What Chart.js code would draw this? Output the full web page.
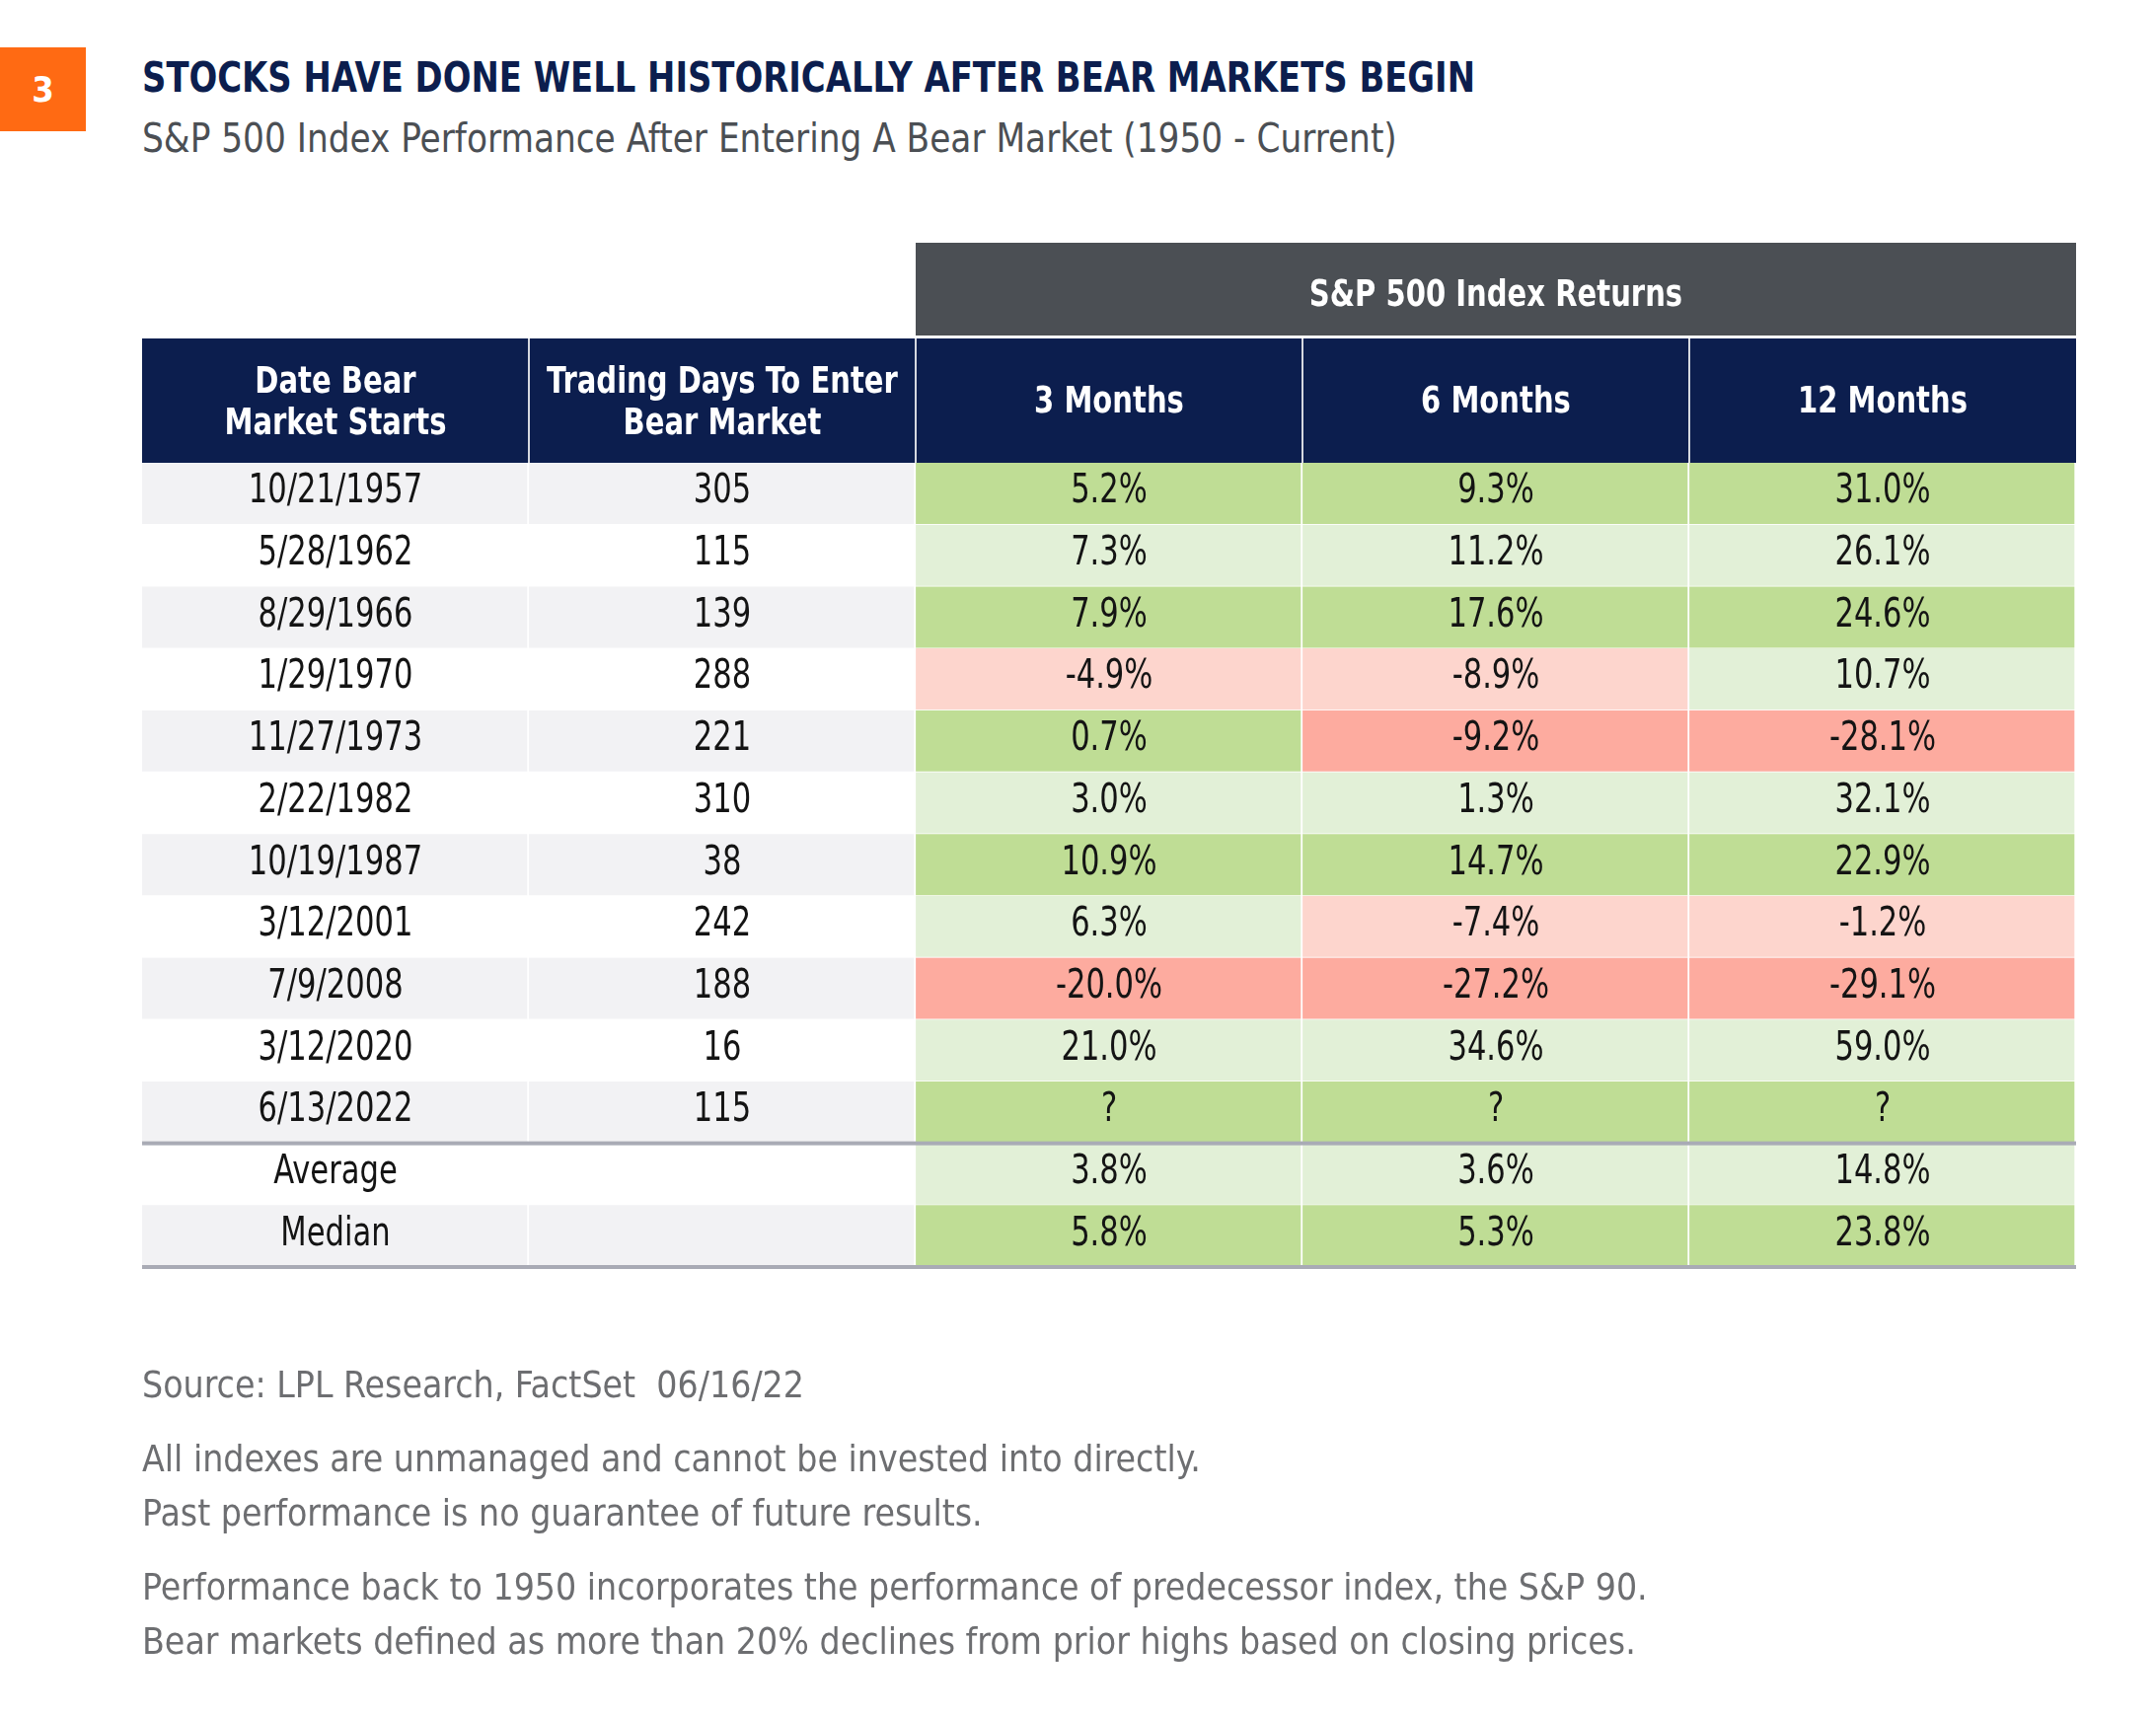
<!DOCTYPE html>
<html>
<head>
<meta charset="utf-8">
<title>Stocks have done well historically after bear markets begin</title>
<script src="https://cdn.jsdelivr.net/npm/chart.js@4.4.0/dist/chart.umd.min.js"></script>
<style>
  html, body { margin: 0; padding: 0; background: #fff; }
  body { width: 2185px; height: 1740px; position: relative; overflow: hidden;
         font-family: "Liberation Sans Narrow", "DejaVu Sans Condensed", Roboto, sans-serif; }
  #table { position: absolute; left: 0; top: 0; }
  .badge { position: absolute; left: 0; top: 48px; width: 87px; height: 85px; background: #ff6a13;
           color: #fff; font-weight: bold; font-size: 36px; line-height: 85px; text-align: center; }
  .title { position: absolute; left: 144px; top: 57px; font-size: 43px; line-height: 43px;
           font-weight: bold; color: #0c1e4e; white-space: nowrap;
           transform: scaleX(0.875); transform-origin: 0 0; }
  .subtitle { position: absolute; left: 144px; top: 120px; font-size: 40px; line-height: 40px;
              color: #4b4f54; white-space: nowrap; transform: scaleX(0.955); transform-origin: 0 0; }
  .note { position: absolute; left: 144px; font-size: 38px; line-height: 55px; color: #6d6e71;
          white-space: nowrap; margin: 0; transform: scaleX(0.975); transform-origin: 0 0; }
</style>
</head>
<body>
<div class="badge">3</div>
<div class="title">STOCKS HAVE DONE WELL HISTORICALLY AFTER BEAR MARKETS BEGIN</div>
<div class="subtitle">S&amp;P 500 Index Performance After Entering A Bear Market (1950 - Current)</div>
<canvas id="table" width="2185" height="1740"></canvas>
<p class="note" style="top:1376px">Source: LPL Research, FactSet&nbsp; 06/16/22</p>
<p class="note" style="top:1451px">All indexes are unmanaged and cannot be invested into directly.<br>Past performance is no guarantee of future results.</p>
<p class="note" style="top:1581px">Performance back to 1950 incorporates the performance of predecessor index, the S&amp;P 90.<br>Bear markets defined as more than 20% declines from prior highs based on closing prices.</p>
<script>
// table data
const startDates = ['10/21/1957', '5/28/1962', '8/29/1966', '1/29/1970', '11/27/1973', '2/22/1982',
                    '10/19/1987', '3/12/2001', '7/9/2008', '3/12/2020', '6/13/2022'];
const tradingDays = [305, 115, 139, 288, 221, 310, 38, 242, 188, 16, 115];
const returns3m  = [5.2, 7.3, 7.9, -4.9, 0.7, 3.0, 10.9, 6.3, -20.0, 21.0, null];
const returns6m  = [9.3, 11.2, 17.6, -8.9, -9.2, 1.3, 14.7, -7.4, -27.2, 34.6, null];
const returns12m = [31.0, 26.1, 24.6, 10.7, -28.1, 32.1, 22.9, -1.2, -29.1, 59.0, null];
const summaryLabels = ['Average', 'Median'];
const summary3m  = [3.8, 5.8];
const summary6m  = [3.6, 5.3];
const summary12m = [14.8, 23.8];
const groupHeader = 'S&P 500 Index Returns';
const columnHeaders = [['Date Bear', 'Market Starts'], ['Trading Days To Enter', 'Bear Market'],
                       ['3 Months'], ['6 Months'], ['12 Months']];

const FONT = '"Liberation Sans Narrow", "DejaVu Sans Condensed", Roboto, sans-serif';
const SQUEEZE = 0.85; // the original face is narrower than anything installed

const rows = startDates.concat(summaryLabels);
const pct = v => v == null ? '?' : v.toFixed(1) + '%';

function plainColor(i) {
  return i % 2 === 0 ? '#f2f2f4' : '#ffffff';
}
function returnColor(v, i) {
  const dark = i % 2 === 0;
  if (v != null && v < 0) return dark ? '#fdab9f' : '#fdd5cd';
  return dark ? '#bfdd95' : '#e2f0d7';
}

const columns = [
  { text: rows, colors: rows.map((r, i) => plainColor(i)) },
  { text: tradingDays.map(String).concat(['', '']), colors: rows.map((r, i) => plainColor(i)) },
];
[returns3m.concat(summary3m), returns6m.concat(summary6m), returns12m.concat(summary12m)].forEach(vals => {
  columns.push({ text: vals.map(pct), colors: vals.map(returnColor) });
});

const datasets = columns.map((col, c) => ({
  label: columnHeaders[c].join(' '),
  data: rows.map(() => [c, c + 1]),
  backgroundColor: col.colors,
  borderColor: '#ffffff',
  borderWidth: { left: 0, right: 2, top: 0, bottom: 1 },
  borderSkipped: false,
  cellText: col.text
}));

function narrowText(ctx, s, x, y) {
  if (!s) return;
  ctx.fillText(s, x, y, ctx.measureText(s).width * SQUEEZE);
}

// header bands above the chart area and text inside the cells
const tableText = {
  id: 'tableText',
  afterDatasetsDraw(chart) {
    const ctx = chart.ctx;
    const x = chart.scales.x, y = chart.scales.y;
    const top = chart.chartArea.top;
    ctx.save();

    ctx.fillStyle = '#4b4f54';
    ctx.fillRect(x.getPixelForValue(2), top - 223, x.getPixelForValue(5) - x.getPixelForValue(2), 94);
    ctx.fillStyle = '#0c1e4e';
    ctx.fillRect(x.getPixelForValue(0), top - 126, x.getPixelForValue(5) - x.getPixelForValue(0), 126);
    ctx.fillStyle = '#d5d8df';
    for (let c = 1; c < 5; c++) ctx.fillRect(x.getPixelForValue(c) - 1, top - 126, 2, 126);

    ctx.fillStyle = '#ffffff';
    ctx.textAlign = 'center';
    ctx.textBaseline = 'alphabetic';
    ctx.font = 'bold 38px ' + FONT;
    narrowText(ctx, groupHeader, (x.getPixelForValue(2) + x.getPixelForValue(5)) / 2, top - 159);
    columnHeaders.forEach((lines, c) => {
      const cx = (x.getPixelForValue(c) + x.getPixelForValue(c + 1)) / 2;
      if (lines.length === 1) narrowText(ctx, lines[0], cx, top - 51);
      else { narrowText(ctx, lines[0], cx, top - 71); narrowText(ctx, lines[1], cx, top - 29); }
    });

    // cell values
    ctx.font = '40px ' + FONT;
    ctx.fillStyle = '#141414';
    chart.data.datasets.forEach((ds, d) => {
      chart.getDatasetMeta(d).data.forEach((bar, i) => {
        const p = bar.getProps(['x', 'y', 'base'], true);
        narrowText(ctx, ds.cellText[i], (p.x + p.base) / 2, p.y + 9);
      });
    });

    // rules under the last date row and under the summary rows
    const half = (y.getPixelForTick(1) - y.getPixelForTick(0)) / 2;
    ctx.fillStyle = '#a9abb5';
    [startDates.length - 1, rows.length - 1].forEach(i => {
      ctx.fillRect(chart.chartArea.left, y.getPixelForTick(i) + half - 2, chart.chartArea.width, 4);
    });
    ctx.restore();
  }
};

new Chart(document.getElementById('table'), {
  type: 'bar',
  data: { labels: rows, datasets: datasets },
  options: {
    indexAxis: 'y',
    responsive: false,
    animation: false,
    devicePixelRatio: 1,
    layout: { padding: { left: 144, right: 81, top: 469, bottom: 456 } },
    datasets: { bar: { grouped: false, barPercentage: 1, categoryPercentage: 1 } },
    scales: {
      x: { type: 'linear', min: 0, max: 5, display: false },
      y: { type: 'category', display: false, offset: true }
    },
    plugins: { legend: { display: false }, tooltip: { enabled: false } }
  },
  plugins: [tableText]
});
</script>
</body>
</html>
